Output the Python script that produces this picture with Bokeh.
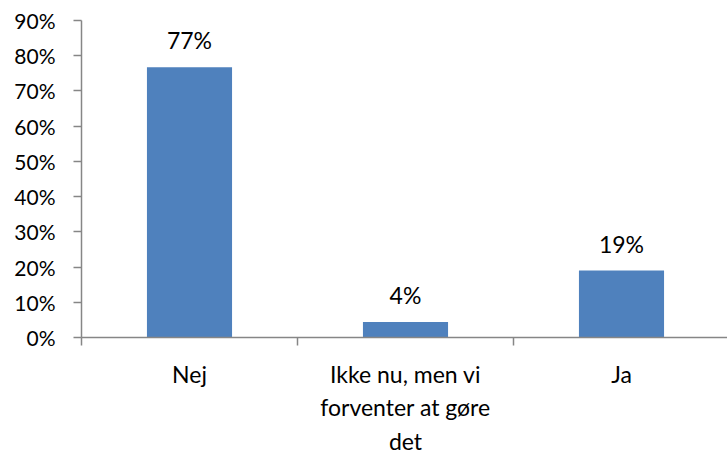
from bokeh.plotting import figure
from bokeh.models import Range1d, FixedTicker, NumeralTickFormatter, ColumnDataSource
from bokeh.core.properties import value
from bokeh.embed import file_html
from bokeh.resources import INLINE

categories = ["Nej", "Ikke nu, men vi\nforventer at gøre\ndet", "Ja"]
shares = [0.767, 0.044, 0.19]
y_ticks = [0.0, 0.1, 0.2, 0.3, 0.4, 0.5, 0.6, 0.7, 0.8, 0.9]

FONT = "Lato"
AXIS_COLOR = "#868686"
BAR_COLOR = "#4F81BD"

xs = [i + 0.5 for i in range(len(categories))]
labels = [f"{round(v * 100)}%" for v in shares]
src = ColumnDataSource(dict(x=xs, top=shares, label=labels))

p = figure(width=727, height=457, output_backend="svg", toolbar_location=None,
           x_range=Range1d(0, 646 / 216), y_range=Range1d(0, 0.9),
           min_border_left=81, min_border_right=0, min_border_top=20, min_border_bottom=120)
p.outline_line_color = None
p.xgrid.visible = False
p.ygrid.visible = False
p.background_fill_color = "white"
p.border_fill_color = "white"

p.vbar(x="x", top="top", width=0.394, source=src, fill_color=BAR_COLOR, line_color=None)
p.text(x="x", y="top", text="label", source=src, text_align="center", text_baseline="alphabetic",
       y_offset=-27, text_font=value(FONT), text_font_size="23px", text_color="#000000")

# y axis
ya = p.yaxis[0]
ya.ticker = FixedTicker(ticks=y_ticks)
ya.formatter = NumeralTickFormatter(format="0%")
ya.axis_line_color = AXIS_COLOR
ya.axis_line_width = 1.5
ya.major_tick_line_color = AXIS_COLOR
ya.major_tick_line_width = 1.5
ya.major_tick_out = 8
ya.major_tick_in = 0
ya.minor_tick_line_color = None
ya.major_label_standoff = 18
ya.major_label_text_font = FONT
ya.major_label_text_font_size = "21px"
ya.major_label_text_color = "#000000"

# x axis
xa = p.xaxis[0]
xa.ticker = FixedTicker(ticks=xs, minor_ticks=list(range(len(categories) + 1)))
xa.major_label_overrides = {x: c for x, c in zip(xs, categories)}
xa.axis_line_color = AXIS_COLOR
xa.axis_line_width = 1.5
xa.major_tick_line_color = None
xa.major_tick_out = 0
xa.major_tick_in = 0
xa.minor_tick_line_color = AXIS_COLOR
xa.minor_tick_line_width = 1.5
xa.minor_tick_out = 8
xa.minor_tick_in = 0
xa.major_label_standoff = 14
xa.major_label_text_font = FONT
xa.major_label_text_font_size = "23px"
xa.major_label_text_color = "#000000"
xa.major_label_text_line_height = 1.2

open("out.html", "w").write(file_html(p, INLINE))
